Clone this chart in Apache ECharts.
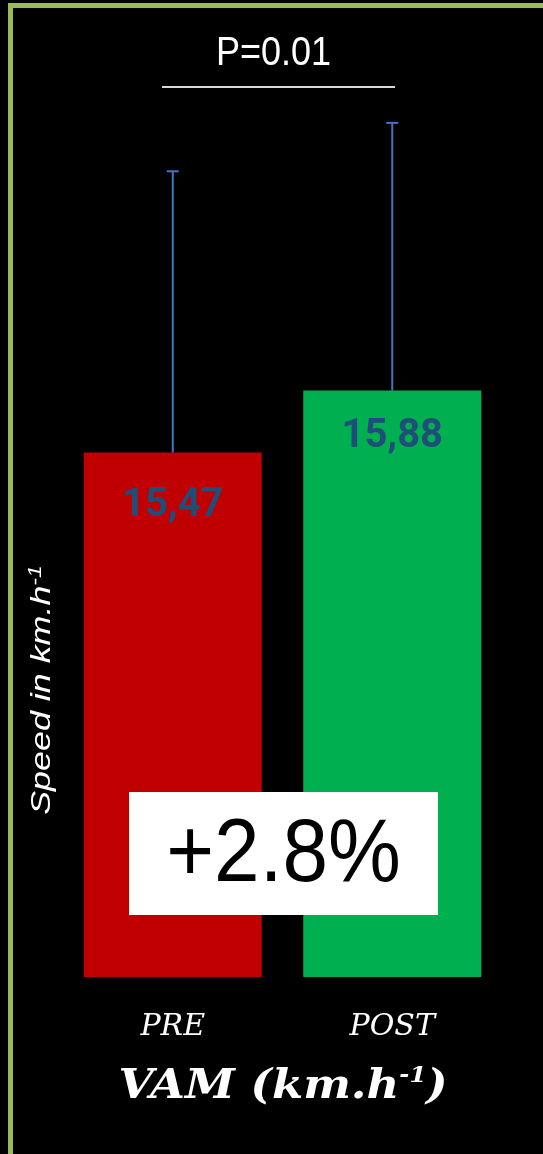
<!DOCTYPE html>
<html>
<head>
<meta charset="utf-8">
<style>
  html, body { margin: 0; padding: 0; background: #000; }
  #chart { width: 543px; height: 1154px; }
</style>
<script src="https://cdn.jsdelivr.net/npm/echarts@6/dist/echarts.min.js"></script>
</head>
<body>
<div id="chart"></div>
<script>
// ---- data ----
const categories = ['PRE', 'POST'];
const means = [15.47, 15.88];
const meanLabels = ['15,47', '15,88'];
const upperSD = [17.33, 17.65];   // mean + SD (error bar tops)
const barColors = ['#C00000', '#00B050'];
const yRange = [12, 18];
const pValueText = 'P=0.01';
const changeText = '+2.8%';
const yAxisTitle = 'Speed in km.h';
const xAxisTitle = 'VAM (km.h';

const chart = echarts.init(document.getElementById('chart'), null, { renderer: 'canvas' });

const labelDistances = [34, 27];

const option = {
  backgroundColor: '#000000',
  animation: false,
  grid: { left: 63, right: 41, top: 70, bottom: 177 },
  xAxis: {
    type: 'category',
    data: categories,
    axisLine: { show: false },
    axisTick: { show: false },
    axisLabel: {
      color: '#ffffff',
      fontFamily: 'DejaVu Serif',
      fontStyle: 'italic',
      fontSize: 30,
      lineHeight: 30,
      margin: 35
    }
  },
  yAxis: {
    type: 'value',
    min: yRange[0],
    max: yRange[1],
    show: false
  },
  series: [
    {
      type: 'bar',
      barWidth: 178,
      data: means.map((v, i) => ({
        value: v,
        itemStyle: { color: barColors[i] },
        label: { distance: labelDistances[i] }
      })),
      label: {
        show: true,
        position: 'insideTop',
        formatter: p => meanLabels[p.dataIndex],
        color: '#1F4E79',
        fontFamily: 'Roboto',
        fontWeight: 'bold',
        fontSize: 40,
        lineHeight: 40
      },
      z: 2
    },
    {
      type: 'custom',
      data: categories.map((c, i) => [i, means[i], upperSD[i]]),
      encode: { x: 0, y: [1, 2] },
      renderItem: function (params, api) {
        const bot = api.coord([api.value(0), api.value(1)]);
        const top = api.coord([api.value(0), api.value(2)]);
        const st = { stroke: '#4472C4', lineWidth: 2 };
        return {
          type: 'group',
          children: [
            { type: 'line', shape: { x1: top[0], y1: bot[1], x2: top[0], y2: top[1] }, style: st },
            { type: 'line', shape: { x1: top[0] - 6, y1: top[1], x2: top[0] + 6, y2: top[1] }, style: st }
          ]
        };
      },
      z: 3
    }
  ],
  graphic: [
    {
      type: 'rect', z: 1,
      shape: { x: 10.5, y: 5.5, width: 700, height: 1400 },
      style: { fill: 'none', stroke: '#9BBB59', lineWidth: 5 }
    },
    {
      type: 'text', z: 100,
      x: 273.5, y: 54, scaleX: 0.9,
      style: {
        text: pValueText, fill: '#ffffff',
        font: '40px "Liberation Sans", Arial, sans-serif',
        textAlign: 'center', textVerticalAlign: 'middle'
      }
    },
    {
      type: 'line', z: 100,
      shape: { x1: 162, y1: 87, x2: 395, y2: 87 },
      style: { stroke: '#D9D9D9', lineWidth: 2 }
    },
    {
      type: 'rect', z: 100,
      shape: { x: 129, y: 792, width: 309, height: 123 },
      style: { fill: '#ffffff' }
    },
    {
      type: 'text', z: 101,
      x: 283.5, y: 856, scaleX: 0.92,
      style: {
        text: changeText, fill: '#000000',
        font: '89px "Liberation Sans", Arial, sans-serif',
        textAlign: 'center', textVerticalAlign: 'middle'
      }
    },
    {
      type: 'text', z: 100,
      x: 42, y: 690, rotation: Math.PI / 2, scaleX: 1.28,
      style: {
        text: '{m|' + yAxisTitle + '}{s|-1}',
        textAlign: 'center', textVerticalAlign: 'middle',
        rich: {
          m: { fill: '#ffffff', color: '#ffffff', fontFamily: 'Liberation Sans', fontStyle: 'italic', fontSize: 28, lineHeight: 30 },
          s: { fill: '#ffffff', color: '#ffffff', fontFamily: 'Liberation Sans', fontStyle: 'italic', fontSize: 18, lineHeight: 18, verticalAlign: 'top' }
        }
      }
    },
    {
      type: 'text', z: 100,
      x: 283, y: 1087, scaleX: 1.1,
      style: {
        text: '{m|' + xAxisTitle + '}{s|-1}{m|)}',
        textAlign: 'center', textVerticalAlign: 'middle',
        rich: {
          m: { fill: '#ffffff', color: '#ffffff', fontFamily: 'DejaVu Serif', fontStyle: 'italic', fontWeight: 'bold', fontSize: 41, lineHeight: 44 },
          s: { fill: '#ffffff', color: '#ffffff', fontFamily: 'DejaVu Serif', fontStyle: 'italic', fontWeight: 'bold', fontSize: 22, lineHeight: 22, verticalAlign: 'top' }
        }
      }
    }
  ]
};
chart.setOption(option);
</script>
</body>
</html>
